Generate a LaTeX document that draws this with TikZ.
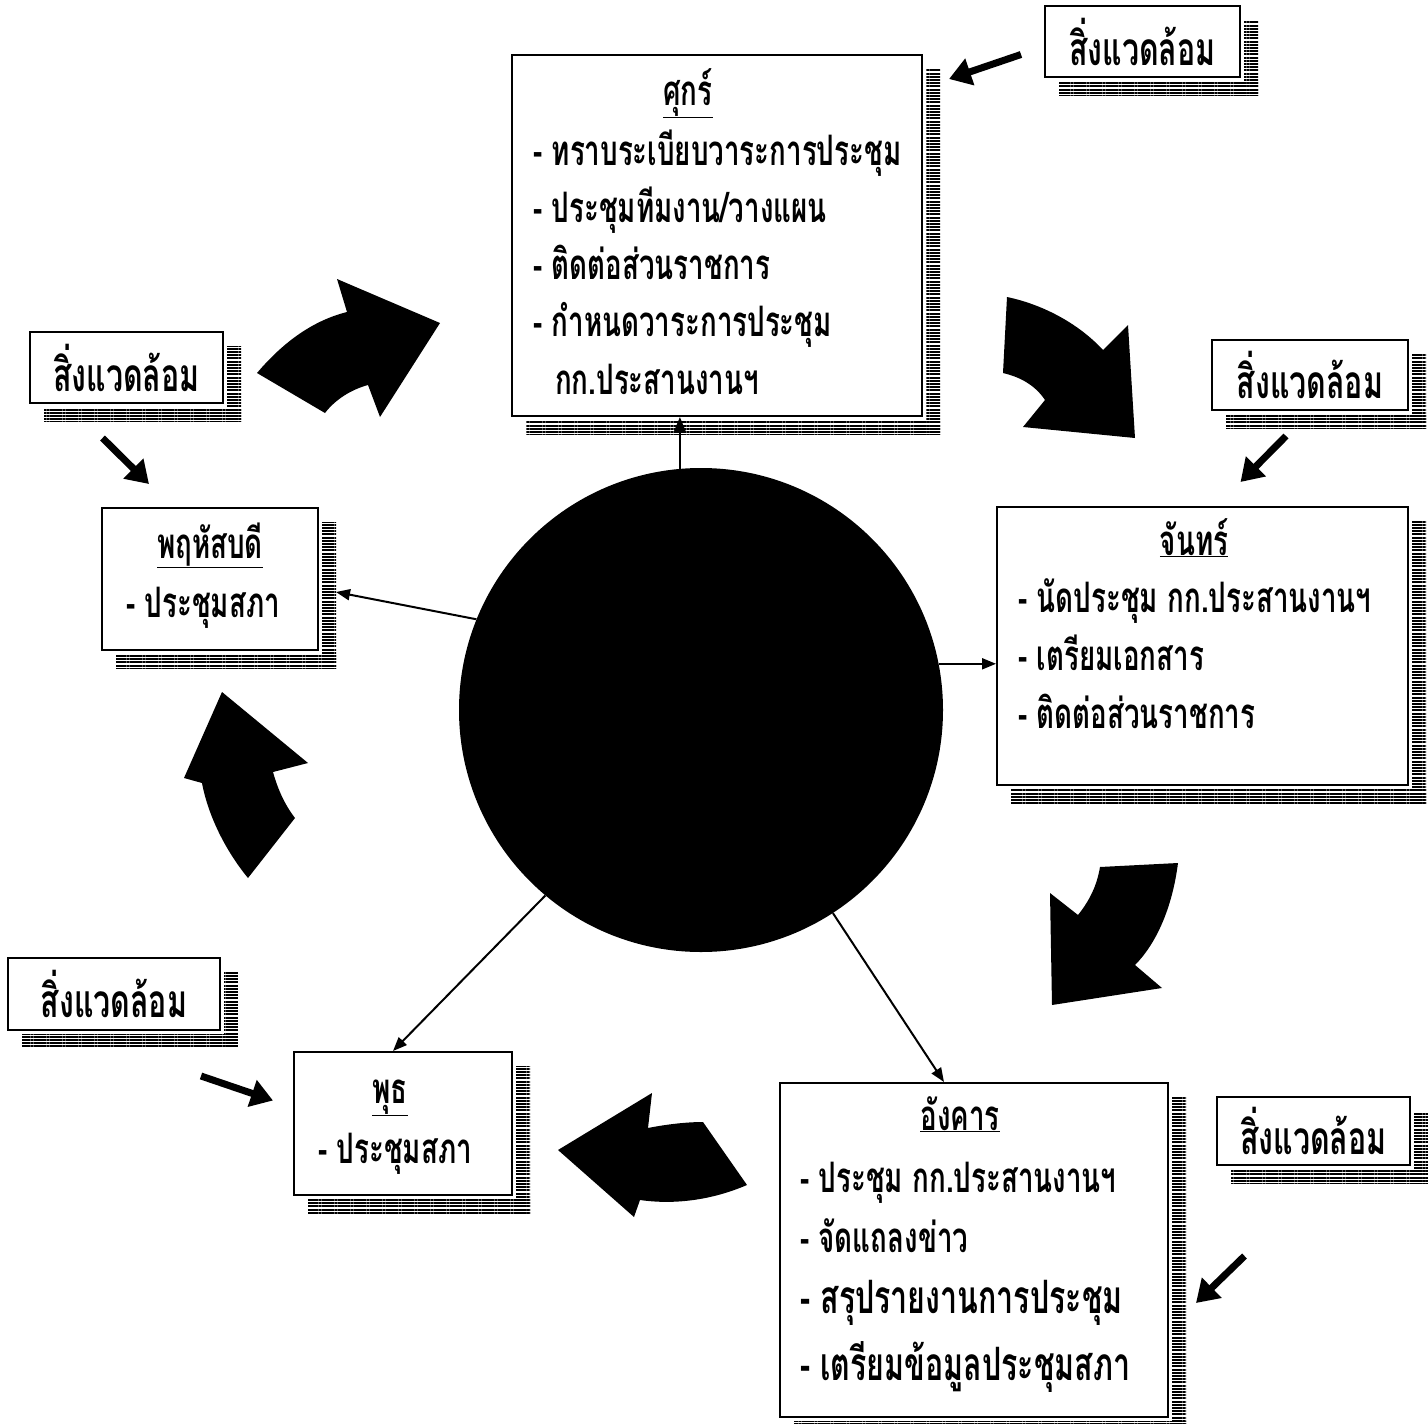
\documentclass[tikz,border=0pt]{standalone}
\usepackage{fontspec}
\newfontfamily\thaifont[Script=Thai,FakeStretch=0.66]{Loma}
\usetikzlibrary{arrows.meta,patterns.meta}

\tikzset{
  daybox/.style={draw, fill=white, line width=2pt, inner sep=0pt},
  envbox/.style={draw, fill=white, line width=2pt, inner sep=0pt,
    font=\thaifont\bfseries\fontsize{46pt}{50pt}\selectfont},
  hub/.style={circle, fill=black, inner sep=0pt, minimum size=484pt},
  daytitle/.style={anchor=base, inner sep=0pt,
    font=\thaifont\bfseries\fontsize{42pt}{50pt}\selectfont},
  item/.style={anchor=base west, inner sep=0pt,
    font=\thaifont\bfseries\fontsize{42pt}{50pt}\selectfont},
  bigitem/.style={item, font=\thaifont\bfseries\fontsize{46pt}{56pt}\selectfont},
  link/.style={line width=2pt, -{Triangle[length=14pt,width=11pt]}},
  envlink/.style={line width=7pt, -{Triangle[length=22pt,width=27pt]}},
  blockarrow/.style={fill=black},
  shade/.style={pattern={Lines[angle=0,distance=3.2pt,line width=2pt]}},
}

% striped shadow on the right and bottom of a box
\newcommand{\boxshadow}[1]{%
  \path[shade] ([xshift=3pt,yshift=-15pt]#1.north east) rectangle ([xshift=17pt,yshift=-17pt]#1.south east);
  \path[shade] ([xshift=15pt,yshift=-3pt]#1.south west) rectangle ([xshift=17pt,yshift=-17pt]#1.south east);}

\begin{document}
\begin{tikzpicture}[x=1pt,y=-1pt]
  \fill[white] (0,0) rectangle (1428,1424);
  \useasboundingbox (0,0) rectangle (1428,1424);

  % day boxes
  \node[daybox, minimum width=410pt, minimum height=361pt] (fri) at (717,235.5) {};
  \node[daybox, minimum width=411pt, minimum height=278pt] (mon) at (1202.5,646) {};
  \node[daybox, minimum width=388pt, minimum height=334pt] (tue) at (974,1250) {};
  \node[daybox, minimum width=218pt, minimum height=143pt] (wed) at (403,1123.5) {};
  \node[daybox, minimum width=216pt, minimum height=142pt] (thu) at (210,579) {};

  % environment boxes
  \node[envbox, minimum width=195pt, minimum height=71pt] (envne) at (1142.5,41.5) {สิ่งแวดล้อม};
  \node[envbox, minimum width=196pt, minimum height=70pt] (enve) at (1310,375) {สิ่งแวดล้อม};
  \node[envbox, minimum width=193pt, minimum height=68pt] (envse) at (1313.5,1131) {สิ่งแวดล้อม};
  \node[envbox, minimum width=212pt, minimum height=72pt] (envsw) at (114,994) {สิ่งแวดล้อม};
  \node[envbox, minimum width=193pt, minimum height=71pt] (envw) at (126.5,367.5) {สิ่งแวดล้อม};

  \foreach \b in {fri,mon,tue,wed,thu,envne,enve,envse,envsw,envw}
    {\boxshadow{\b}}

  % box texts
  \node[daytitle] (fri-t) at (688,105) {\underline{ศุกร์}};
  \foreach \t [count=\i] in {- ทราบระเบียบวาระการประชุม, - ประชุมทีมงาน/วางแผน,
      - ติดต่อส่วนราชการ, - กำหนดวาระการประชุม}
    \node[item] (fri-\i) at (533,{165+(\i-1)*57.3}) {\t};
  \node[item] (fri-5) at (555,394) {กก.ประสานงานฯ};

  \node[daytitle] (mon-t) at (1194,555) {\underline{จันทร์}};
  \foreach \t [count=\i] in {- นัดประชุม กก.ประสานงานฯ, - เตรียมเอกสาร, - ติดต่อส่วนราชการ}
    \node[item] (mon-\i) at (1018,{612+(\i-1)*58}) {\t};

  \node[daytitle] (tue-t) at (960,1130) {\underline{อังคาร}};
  \node[item] (tue-1) at (800,1192) {- ประชุม กก.ประสานงานฯ};
  \node[item] (tue-2) at (800,1252) {- จัดแถลงข่าว};
  \node[bigitem] (tue-3) at (800,1313) {- สรุปรายงานการประชุม};
  \node[bigitem] (tue-4) at (800,1380) {- เตรียมข้อมูลประชุมสภา};

  \node[daytitle] (wed-t) at (390,1103) {\underline{พุธ}};
  \node[item] (wed-1) at (318,1163) {- ประชุมสภา};

  \node[daytitle] (thu-t) at (210,558) {\underline{พฤหัสบดี}};
  \node[item] (thu-1) at (126,617) {- ประชุมสภา};

  % centre
  \node[hub] (hub) at (701,710) {};
  \draw[link] (hub.95) -- (hub.95 |- fri.south);
  \draw[link] (hub.11) -- (hub.11 -| mon.west);
  \draw[link] (hub.-57) -- ([xshift=165pt]tue.north west);
  \draw[link] (hub.-130) -- ([xshift=100pt]wed.north west);
  \draw[link] (hub.158) -- ([xshift=17pt,yshift=-13pt]thu.east);

  % environment arrows
  \draw[envlink] ([xshift=-23pt,yshift=-13pt]envne.west) -- ([xshift=26pt,yshift=-25pt]fri.north east);
  \draw[envlink] ([xshift=-24pt,yshift=-25pt]enve.south) -- ([xshift=38pt,yshift=24pt]mon.north);
  \draw[envlink] ([xshift=-69pt,yshift=-90pt]envse.south) -- ([xshift=27pt,yshift=-53pt]tue.east);
  \draw[envlink] ([xshift=-20pt,yshift=-45pt]envsw.south east) -- ([xshift=-20pt,yshift=23pt]wed.west);
  \draw[envlink] ([xshift=-24pt,yshift=-34pt]envw.south) -- ([xshift=48pt,yshift=23pt]thu.north west);

  % big curved arrows of the cycle
  \fill[blockarrow] (257,373) .. controls (285,340) and (315,320) .. (347,312) -- (337,279)
    -- (440,323) -- (380,417) -- (368,385) .. controls (350,390) and (335,400) .. (325,413) -- cycle;
  \fill[blockarrow] (1007,297) .. controls (1045,305) and (1080,325) .. (1103,350) -- (1128,325)
    -- (1135,438) -- (1023,427) -- (1045,400) .. controls (1035,385) and (1020,377) .. (1003,373) -- cycle;
  \fill[blockarrow] (1100,867) -- (1178,863) .. controls (1172,910) and (1155,945) .. (1135,965)
    -- (1162,988) -- (1052,1005) -- (1050,893) -- (1078,915) .. controls (1090,900) and (1097,885) .. (1100,867) -- cycle;
  \fill[blockarrow] (703,1122) -- (747,1185) .. controls (712,1200) and (675,1205) .. (640,1200)
    -- (634,1217) -- (558,1150) -- (652,1093) -- (648,1128) .. controls (668,1124) and (688,1122) .. (703,1122) -- cycle;
  \fill[blockarrow] (222,692) -- (308,763) -- (273,772) .. controls (278,790) and (285,805) .. (295,818)
    -- (248,878) .. controls (225,850) and (208,815) .. (202,783) -- (184,778) -- cycle;
\end{tikzpicture}
\end{document}
